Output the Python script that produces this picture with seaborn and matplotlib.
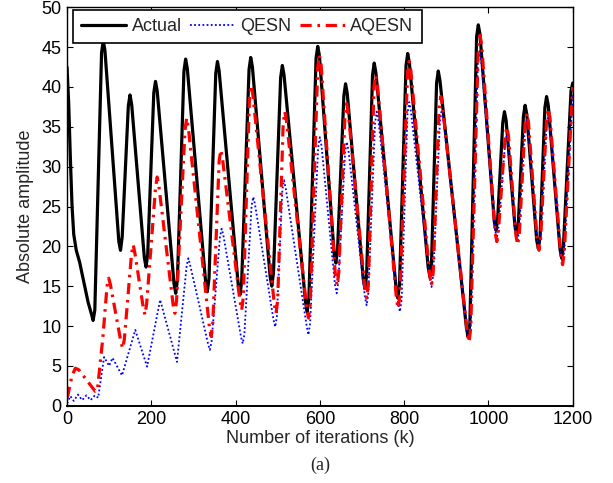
import matplotlib
matplotlib.use("Agg")
import matplotlib.pyplot as plt
import pandas as pd
import seaborn as sns

# ---- data (extrema plus shoulder points) ----
actual_x = [0, 4, 8, 12, 16, 22, 30, 40, 50, 58, 62, 66,
            82, 86, 90, 123, 127, 131, 145.5, 149.5, 153.5, 183.5, 187.5, 191.5,
            206, 210, 214, 254, 258, 262, 277.5, 281.5, 285.5, 329, 333, 337,
            353, 357, 361, 406.5, 410.5, 414.5, 432, 436, 440, 482, 486, 490,
            507, 511, 515, 566, 570, 574, 591, 595, 599, 634, 638, 642,
            657, 661, 665, 703, 707, 711, 725, 729, 733, 781, 785, 789,
            804.5, 808.5, 812.5, 857, 861, 865, 877, 881, 885, 948, 952, 956,
            972, 976, 980, 1014, 1018, 1022, 1034, 1038, 1042, 1063, 1067, 1071,
            1083, 1087, 1091, 1114.5, 1118.5, 1122.5, 1134, 1138, 1142, 1170, 1174, 1178,
            1196, 1200]
actual_y = [42.5, 38.0, 31.0, 25.0, 21.5, 19.5, 18.0, 15.5, 13.0, 11.5, 10.7, 12.0,
            44.3, 45.8, 44.6, 20.6, 19.5, 21.2, 37.6, 39.0, 37.8, 18.6, 17.4, 19.0,
            39.3, 40.7, 39.5, 15.3, 14.1, 15.8, 42.0, 43.5, 42.3, 15.5, 14.3, 16.0,
            41.7, 43.2, 42.0, 15.1, 13.9, 15.6, 42.2, 43.7, 42.5, 16.2, 15.0, 16.7,
            41.2, 42.7, 41.5, 13.0, 11.8, 13.5, 43.6, 45.1, 43.9, 19.1, 17.9, 19.6,
            38.9, 40.4, 39.2, 15.9, 14.7, 16.4, 41.5, 43.0, 41.8, 14.7, 13.5, 15.2,
            42.7, 44.2, 43.0, 17.4, 16.2, 17.9, 40.5, 42.0, 40.8, 9.7, 8.6, 10.3,
            46.3, 47.8, 46.6, 23.1, 22.0, 23.5, 35.5, 36.9, 35.8, 22.5, 21.4, 22.9,
            36.3, 37.7, 36.6, 20.8, 19.7, 21.2, 37.4, 38.8, 37.7, 19.6, 18.5, 20.0,
            39.5, 40.5]

qesn_x = [0, 8, 16, 26, 36, 46, 56, 66, 74, 88, 100, 108, 130.5, 162, 190, 221, 261,
          284, 288, 292, 335, 339, 343, 363, 367, 371, 413, 417, 421, 438, 442, 446,
          490, 494, 498, 511, 515, 519, 569, 573, 577, 596, 600, 604, 636, 640, 644,
          660, 664, 668, 707, 711, 715, 731, 735, 739, 786, 790, 794, 808, 812, 816,
          861, 865, 869, 885, 889, 893, 950, 954, 958, 975, 979, 983, 1016, 1020, 1024,
          1039, 1043, 1047, 1065, 1069, 1073, 1086, 1090, 1094, 1116, 1120, 1124,
          1138, 1142, 1146, 1172, 1176, 1180, 1200]
qesn_y = [0.3, 1.2, 0.6, 1.4, 0.7, 1.3, 0.7, 1.3, 1.0, 6.1, 5.0, 6.0, 3.8, 9.5, 4.9, 13.3, 5.5,
          17.6, 18.5, 17.7, 7.7, 7.0, 8.0, 21.2, 22.2, 21.4, 8.6, 7.8, 9.0, 25.1, 26.2, 25.3,
          10.8, 9.9, 11.2, 27.1, 28.3, 27.3, 9.9, 8.9, 10.4, 32.4, 33.7, 32.6, 15.1, 14.1, 15.6,
          31.8, 33.1, 32.0, 13.6, 12.6, 14.1, 35.5, 36.9, 35.8, 12.8, 11.8, 13.3, 36.7, 38.1, 37.0,
          15.9, 14.9, 16.4, 35.7, 37.1, 36.0, 9.2, 8.2, 9.8, 43.0, 44.5, 43.3, 22.0, 21.0, 22.5,
          32.5, 33.8, 32.7, 21.6, 20.6, 22.1, 34.5, 35.8, 34.7, 20.8, 19.8, 21.3,
          35.2, 36.5, 35.4, 18.9, 17.9, 19.4, 39.0]

aqesn_x = [0, 2, 12, 20, 28, 67, 72, 85, 95, 99, 103, 128, 132, 136, 153, 157, 161,
           181, 185, 189, 210, 214, 218, 252, 256, 260, 280, 284, 288, 338, 342, 346,
           361, 365, 369, 410.5, 414.5, 418.5, 433, 437, 441, 492, 496, 500, 513, 517, 521,
           569, 573, 577, 595, 599, 603, 637, 641, 645, 659.6, 663.6, 667.6, 707, 711, 715,
           728.5, 732.5, 736.5, 782, 786, 790, 808, 812, 816, 861, 865, 869, 883, 887, 891,
           950, 954, 958, 976, 980, 984, 1016, 1020, 1024, 1039.5, 1043.5, 1047.5,
           1065.5, 1069.5, 1073.5, 1087, 1091, 1095, 1116, 1120, 1124, 1138, 1142, 1146,
           1172, 1176, 1180, 1200]
aqesn_y = [1.0, 1.3, 3.8, 4.7, 4.5, 1.8, 1.9, 8.5, 15.0, 16.0, 15.2, 8.0, 7.2, 8.3, 19.0, 20.2, 19.2,
           12.3, 11.4, 12.8, 27.3, 28.7, 27.6, 12.6, 11.6, 13.2, 34.6, 36.1, 34.9, 9.8, 8.7, 10.4,
           30.7, 32.1, 31.0, 13.1, 12.0, 13.7, 38.7, 40.2, 39.0, 12.7, 11.6, 13.3, 35.4, 36.9, 35.7,
           12.1, 11.0, 12.7, 42.5, 44.0, 42.8, 16.2, 15.1, 16.8, 36.4, 37.9, 36.7, 14.6, 13.5, 15.2,
           40.0, 41.5, 40.3, 13.3, 12.2, 13.9, 41.7, 43.2, 42.0, 16.2, 15.1, 16.8, 37.3, 38.8, 37.6,
           9.1, 8.0, 9.7, 45.0, 46.5, 45.3, 21.7, 20.6, 22.1, 33.6, 35.0, 33.9,
           21.3, 20.2, 21.7, 35.3, 36.7, 35.6, 20.6, 19.5, 21.0, 35.9, 37.3, 36.2,
           18.8, 17.7, 19.2, 40.0]

x_ticks = [0, 200, 400, 600, 800, 1000, 1200]
y_ticks = [0, 5, 10, 15, 20, 25, 30, 35, 40, 45, 50]

df_actual = pd.DataFrame({"k": actual_x, "amp": actual_y})
df_qesn = pd.DataFrame({"k": qesn_x, "amp": qesn_y})
df_aqesn = pd.DataFrame({"k": aqesn_x, "amp": aqesn_y})

sns.set_style("ticks")
plt.rcParams["font.family"] = ["Liberation Sans", "DejaVu Sans"]
plt.rcParams["xtick.direction"] = "in"
plt.rcParams["ytick.direction"] = "in"
plt.rcParams["xtick.top"] = True
plt.rcParams["ytick.right"] = True

fig = plt.figure(figsize=(6.13, 4.83), dpi=100)
ax = fig.add_axes([67 / 613, 1 - 405.7 / 483, (572.7 - 67) / 613, (405.7 - 7.3) / 483])

sns.lineplot(data=df_actual, x="k", y="amp", ax=ax, color="black", linewidth=2.3,
             sort=False, label="Actual")
sns.lineplot(data=df_qesn, x="k", y="amp", ax=ax, color="blue", linewidth=1.3,
             linestyle=(0, (1, 1.3)), sort=False, label="QESN")
sns.lineplot(data=df_aqesn, x="k", y="amp", ax=ax, color="red", linewidth=2.3,
             linestyle=(0, (3.5, 1.8, 0.8, 1.8)), sort=False, label="AQESN")

ax.set_xlim(0, 1200)
ax.set_ylim(0, 50)
ax.set_xticks(x_ticks)
ax.set_yticks(y_ticks)
ax.tick_params(axis="both", which="both", direction="in", top=True, right=True,
               length=4, width=0.8, labelsize=13, pad=4, colors="black")
for s in ax.spines.values():
    s.set_linewidth(1.0)
    s.set_color("black")
ax.spines["bottom"].set_linewidth(1.4)

ax.set_xlabel("Number of iterations (k)", fontsize=13, labelpad=1)
ax.set_ylabel("Absolute amplitude", fontsize=13, labelpad=5)

leg = ax.legend(loc="upper left", bbox_to_anchor=(0.012, 0.993), borderaxespad=0,
                ncol=3, fontsize=13, frameon=True, fancybox=False, framealpha=1,
                edgecolor="black", handlelength=2.5, handletextpad=0.3,
                columnspacing=0.45, borderpad=0.45)
leg.get_frame().set_linewidth(1.2)

fig.text((67 + 572.7) / 2 / 613, 1 - 465 / 483, "(a)", ha="center", va="center",
         fontsize=13, family=["Liberation Serif", "DejaVu Serif"])

fig.savefig("out.png", dpi=100)
